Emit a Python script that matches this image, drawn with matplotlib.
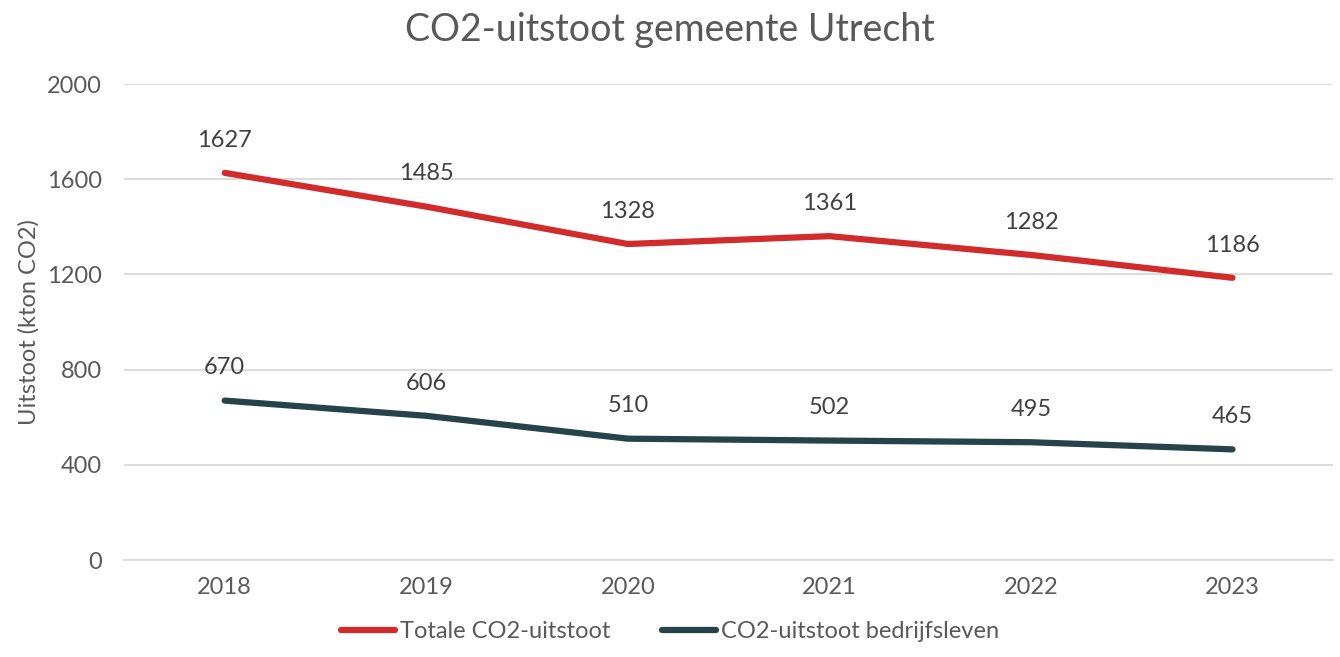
import numpy as np
import matplotlib.pyplot as plt

plt.rcParams['font.family'] = ['Lato', 'DejaVu Sans']

years = ['2018', '2019', '2020', '2021', '2022', '2023']
totaal = [1627, 1485, 1328, 1361, 1282, 1186]
bedrijven = [670, 606, 510, 502, 495, 465]

grey = '#595959'
red = '#D22B2B'
dark = '#264349'

fig = plt.figure(figsize=(13.4, 6.57), dpi=100)
ax = fig.add_axes([0.0925, 0.1476, 0.9025, 0.7244])
x = np.arange(len(years))

ax.plot(x, totaal, color=red, lw=4.5, solid_capstyle='round', label='Totale CO2-uitstoot', zorder=3)
ax.plot(x, bedrijven, color=dark, lw=4.5, solid_capstyle='round', label='CO2-uitstoot bedrijfsleven', zorder=3)

for xi, v in zip(x, totaal):
    ax.annotate(str(v), (xi, v), xytext=(0, 16), textcoords='offset points',
                ha='center', va='bottom', fontsize=17, color='#404040')
for xi, v in zip(x, bedrijven):
    ax.annotate(str(v), (xi, v), xytext=(0, 16), textcoords='offset points',
                ha='center', va='bottom', fontsize=17, color='#404040')

ax.set_xlim(-0.5, len(years) - 0.5)
ax.set_ylim(0, 2000)
ax.set_yticks(np.arange(0, 2001, 400))
ax.set_xticks(x)
ax.set_xticklabels(years)
ax.grid(axis='y', color='#D9D9D9', lw=1.3)
ax.set_axisbelow(True)
for s in ['top', 'right', 'left']:
    ax.spines[s].set_visible(False)
ax.spines['bottom'].set_color('#D9D9D9')
ax.spines['bottom'].set_linewidth(1.3)
ax.tick_params(axis='both', length=0, labelsize=17, colors=grey, pad=12)
ax.tick_params(axis='y', pad=16)
ax.set_ylabel('Uitstoot (kton CO2)', fontsize=17, color=grey, labelpad=5)

fig.suptitle('CO2-uitstoot gemeente Utrecht', fontsize=27, color=grey, y=0.982)
fig.legend(loc='lower center', bbox_to_anchor=(0.5, -0.01), ncol=2, frameon=False,
           fontsize=17, labelcolor=grey, handlelength=2.3, handletextpad=0.2, columnspacing=2.2)

fig.savefig('out.png', dpi=100)
